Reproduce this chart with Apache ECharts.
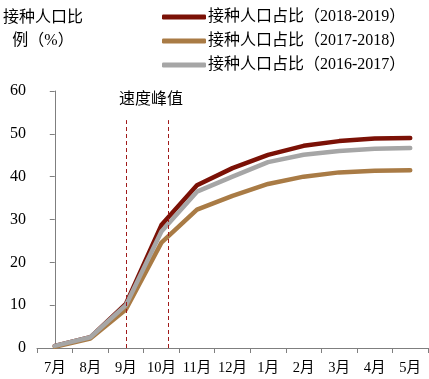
<!DOCTYPE html>
<html><head><meta charset="utf-8">
<script src="https://cdn.jsdelivr.net/npm/echarts@6/dist/echarts.min.js"></script>
<style>html,body{margin:0;padding:0;background:#fff}#c{width:429px;height:379px}</style>
</head><body><div id="c"></div>
<script>
const categories = ['7月','8月','9月','10月','11月','12月','1月','2月','3月','4月','5月'];
const s2018 = [0.5, 2.5, 10.3, 28.7, 38.0, 42.0, 45.1, 47.2, 48.3, 48.9, 49.0];
const s2017 = [0.3, 2.2, 9.0, 24.6, 32.3, 35.5, 38.3, 40.0, 41.0, 41.4, 41.5];
const s2016 = [0.5, 2.5, 10.0, 27.2, 36.5, 40.0, 43.4, 45.1, 46.0, 46.5, 46.7];
const names = ['接种人口占比（2018-2019）','接种人口占比（2017-2018）','接种人口占比（2016-2017）'];
const colors = ['#7B1106','#A97B45','#A6A6A6'];
const yTicks = [0, 10, 20, 30, 40, 50, 60];
const peakLines = [2, 3.18];
const peakTop = 53.2;

const font = '"Liberation Serif", "Noto Sans CJK SC", serif';
const chart = echarts.init(document.getElementById('c'));
const mk = (name, data, color) => ({
  name, type: 'line', data, symbol: 'none', smooth: false,
  lineStyle: { width: 4.5, color, cap: 'round', join: 'round' }, itemStyle: { color }
});
chart.setOption({
  animation: false,
  textStyle: { fontFamily: font },
  grid: { left: 37, right: 1, top: 91, bottom: 31 },
  legend: {
    orient: 'vertical', left: 157, top: 4, itemGap: 8, itemWidth: 44, itemHeight: 5,
    icon: 'roundRect',
    textStyle: { fontFamily: font, fontSize: 16, color: '#000', padding: [0,0,0,-3] },
    data: names
  },
  graphic: [
    { type: 'text', left: 3, top: 6, style: { text: '接种人口比\n例（%）', font: '16px ' + font, fill: '#000', textAlign: 'center', lineHeight: 23 } },
    { type: 'text', left: 119, top: 92, style: { text: '速度峰值', font: '16px ' + font, fill: '#000' } }
  ],
  xAxis: [{
    type: 'category', data: categories, boundaryGap: true,
    axisLine: { lineStyle: { color: '#7f7f7f', width: 1 } },
    axisTick: { show: true, alignWithLabel: false, length: 5, lineStyle: { color: '#7f7f7f' } },
    axisLabel: { color: '#000', fontSize: 14.5, fontFamily: font, margin: 13, interval: 0 }
  }, {
    type: 'value', min: -0.5, max: 10.5, show: false
  }],
  yAxis: {
    type: 'value', min: yTicks[0], max: yTicks[yTicks.length-1], interval: 10,
    axisLine: { show: true, lineStyle: { color: '#7f7f7f' } },
    axisTick: { show: true, length: 5, lineStyle: { color: '#7f7f7f' } },
    splitLine: { show: false },
    axisLabel: { color: '#000', fontSize: 16, fontFamily: font, margin: 11 }
  },
  series: [
    mk(names[0], s2018, colors[0]),
    mk(names[1], s2017, colors[1]),
    mk(names[2], s2016, colors[2]),
    {
      type: 'line', xAxisIndex: 1, data: [], silent: true,
      markLine: {
        symbol: 'none', silent: true, label: { show: false },
        lineStyle: { type: [4, 3], color: '#A01A1A', width: 1 },
        data: peakLines.map(v => [{ coord: [v, 0] }, { coord: [v, peakTop] }])
      }
    }
  ]
});
</script></body></html>
